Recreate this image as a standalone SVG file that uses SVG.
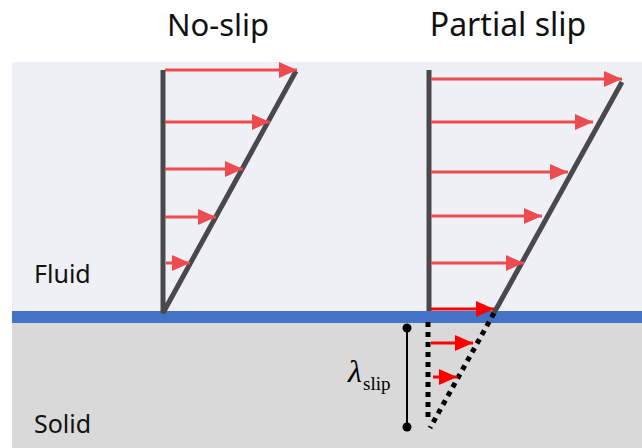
<svg xmlns="http://www.w3.org/2000/svg" width="642" height="448" viewBox="0 0 642 448">
<style>
.t{font-family:"Noto Sans","Liberation Sans",sans-serif;fill:#111}
.prof{stroke:#48484d;stroke-width:5;fill:none}
.v{stroke:#ee4b50;stroke-width:3;fill:none}
.vs{stroke:#ff0000;stroke-width:3;fill:none}
.dot{stroke:#000;stroke-width:5;stroke-dasharray:5 5;fill:none}
</style>
<defs>
<marker id="ah" markerUnits="userSpaceOnUse" markerWidth="19" markerHeight="17" refX="18" refY="8" orient="auto"><path d="M0,0 L18,8 L0,16 Z" fill="#ee4b50"/></marker>
<marker id="ahs" markerUnits="userSpaceOnUse" markerWidth="19" markerHeight="17" refX="18" refY="8" orient="auto"><path d="M0,0 L18,8 L0,16 Z" fill="#ff0000"/></marker>
<marker id="dt" markerUnits="userSpaceOnUse" markerWidth="10" markerHeight="10" refX="5" refY="5"><circle cx="5" cy="5" r="4.5" fill="#000"/></marker>
</defs>
<g id="background">
<rect x="12" y="62" width="630" height="250" fill="#eff0f5"/>
<rect x="12" y="322" width="630" height="126" fill="#d9d9d9"/>
<rect x="12" y="311" width="630" height="12" fill="#4472c4"/>
</g>
<g id="labels">
<text class="t" x="218" y="36" font-size="31" text-anchor="middle">No-slip</text>
<text class="t" x="508" y="36" font-size="32" text-anchor="middle">Partial slip</text>
<text class="t" x="34" y="283" font-size="25">Fluid</text>
<text class="t" x="34" y="433" font-size="25">Solid</text>
</g>
<g id="noslip">
<path class="prof" d="M163,70 V313 L296,71"/>
</g>
<g id="partialslip">
<path class="prof" d="M429,70 V311"/>
<path class="prof" d="M622,82 L494,313"/>
<path class="dot" d="M428,322 V422"/>
<path class="dot" d="M494,313 L430,428"/>
</g>
<g id="connectors">
<path class="v" marker-end="url(#ah)" d="M165,70 H297"/>
<path class="v" marker-end="url(#ah)" d="M165,122 H270"/>
<path class="v" marker-end="url(#ah)" d="M165,169 H243"/>
<path class="v" marker-end="url(#ah)" d="M165,217 H216"/>
<path class="v" marker-end="url(#ah)" d="M166,263 H190"/>
<path class="v" marker-end="url(#ah)" d="M431,79 H622"/>
<path class="v" marker-end="url(#ah)" d="M431,122 H593"/>
<path class="v" marker-end="url(#ah)" d="M431,172 H568"/>
<path class="v" marker-end="url(#ah)" d="M431,216 H542"/>
<path class="v" marker-end="url(#ah)" d="M431,263 H524"/>
<path class="vs" marker-end="url(#ahs)" d="M431,309 H494"/>
<path class="vs" marker-end="url(#ahs)" d="M431,343 H473"/>
<path class="vs" marker-end="url(#ahs)" d="M433,377 H457"/>
</g>
<g id="slip-length">
<path d="M407,328 V427" stroke="#000" stroke-width="2" marker-start="url(#dt)" marker-end="url(#dt)"/>
<text x="348" y="382" font-family="Liberation Serif,serif" font-style="italic" font-size="32">λ</text>
<text x="363" y="390" font-family="Liberation Serif,serif" font-size="19">slip</text>
</g>
</svg>
